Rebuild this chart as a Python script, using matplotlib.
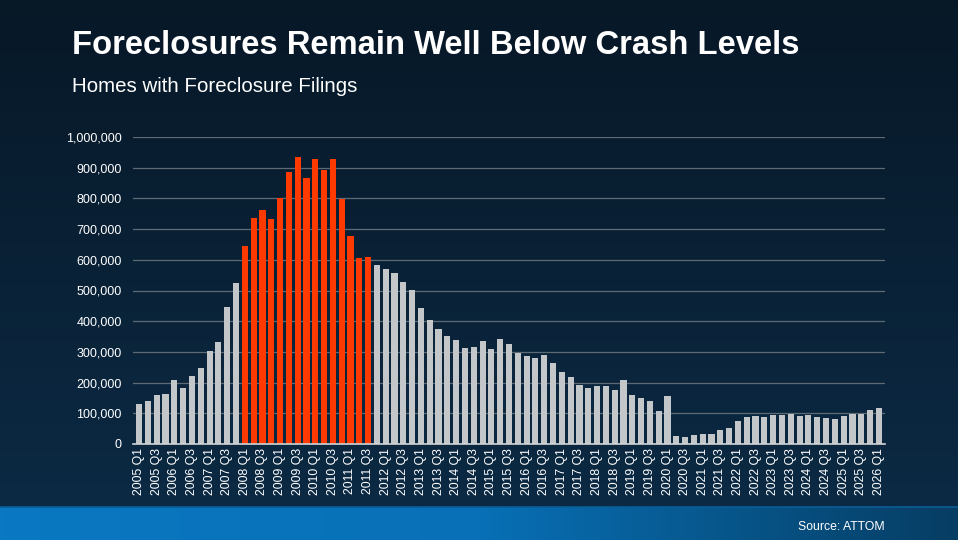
import matplotlib
matplotlib.use("Agg")
import matplotlib.pyplot as plt
import numpy as np
from matplotlib.colors import LinearSegmentedColormap
from matplotlib.ticker import FuncFormatter, MultipleLocator

plt.rcParams["font.family"] = ["Liberation Sans", "DejaVu Sans"]

# Quarterly foreclosure filings, 2005 Q1 .. 2026 Q1
years = list(range(2005, 2027))
quarters = [f"{y} Q{q}" for y in years for q in range(1, 5)][:85]

filings = [
    130000, 140000, 158000, 163000, 207000, 181000, 220000, 246000,
    304000, 332000, 445000, 524000,
    646000, 736000, 761000, 733000, 800000, 886000, 935000, 868000,
    929000, 894000, 928000, 797000, 678000, 605000, 608000,
    584000, 571000, 558000, 529000, 503000, 442000, 404000, 375000,
    352000, 340000, 314000, 316000, 336000, 311000, 342000, 326000,
    298000, 288000, 279000, 291000, 263000, 234000, 218000, 191000,
    182000, 189000, 189000, 176000, 208000, 160000, 150000, 140000,
    109000, 155000, 27000, 24000, 30000, 32000, 32000, 45000,
    53000, 76000, 88000, 91000, 89000, 95000, 95000, 99000,
    91000, 95000, 88000, 85000, 83000, 91000, 99000, 99000,
    111000, 117000,
]
crash_start, crash_end = "2008 Q1", "2011 Q3"

gray = "#c3c7c9"
red = "#ff3a00"

fig = plt.figure(figsize=(9.58, 5.4), dpi=100)

# background
bg = fig.add_axes([0, 0, 1, 1], zorder=-10)
bg_cmap = LinearSegmentedColormap.from_list("bg", ["#071827", "#0c2b46"])
bg.imshow(np.linspace(0, 1, 256).reshape(-1, 1), aspect="auto", cmap=bg_cmap,
          extent=[0, 1, 0, 1], origin="upper")
band_cmap = LinearSegmentedColormap.from_list("band", ["#0a78c2", "#0870b6", "#063d63"])
bg.imshow(np.linspace(0, 1, 256).reshape(1, -1), aspect="auto", cmap=band_cmap,
          extent=[0, 1, 0, 33 / 540])
bg.plot([0, 1], [33 / 540, 33 / 540], color="#0a5d96", lw=1.2)
bg.set_xlim(0, 1)
bg.set_ylim(0, 1)
bg.axis("off")

fig.text(72 / 958, 1 - 45 / 540, "Foreclosures Remain Well Below Crash Levels",
         color="white", fontsize=23.6, fontweight="bold", va="center")
fig.text(72 / 958, 1 - 87 / 540, "Homes with Foreclosure Filings",
         color="white", fontsize=14.8, va="center")
fig.text(885 / 958, 1 - 527 / 540, "Source: ATTOM", color="white",
         fontsize=8.8, ha="right", va="center")

ax = fig.add_axes([133 / 958, 1 - 444 / 540, 752 / 958, 307 / 540])
ax.set_facecolor("none")

x = np.arange(len(quarters))
i0, i1 = quarters.index(crash_start), quarters.index(crash_end)
colors = [red if i0 <= i <= i1 else gray for i in range(len(quarters))]
ax.bar(x, filings, width=0.7, color=colors, zorder=3)

ax.set_xlim(-0.7, len(quarters) - 0.3)
ax.set_ylim(0, 1000000)
ax.yaxis.set_major_locator(MultipleLocator(100000))
ax.yaxis.set_major_formatter(FuncFormatter(lambda v, p: f"{int(v):,}"))
ax.grid(axis="y", color="#5f6b74", lw=0.9, zorder=0)
ax.tick_params(axis="y", colors="white", labelsize=9, length=0, pad=8)

ax.set_xticks(x[::2])
ax.set_xticklabels(quarters[::2], rotation=90, fontsize=8.8, color="white")
ax.tick_params(axis="x", length=0, pad=3)

for s in ["top", "right", "left"]:
    ax.spines[s].set_visible(False)
ax.spines["bottom"].set_color("#d0d4d6")
ax.spines["bottom"].set_linewidth(1.2)
ax.spines["bottom"].set_zorder(4)

fig.savefig("out.png", dpi=100)
